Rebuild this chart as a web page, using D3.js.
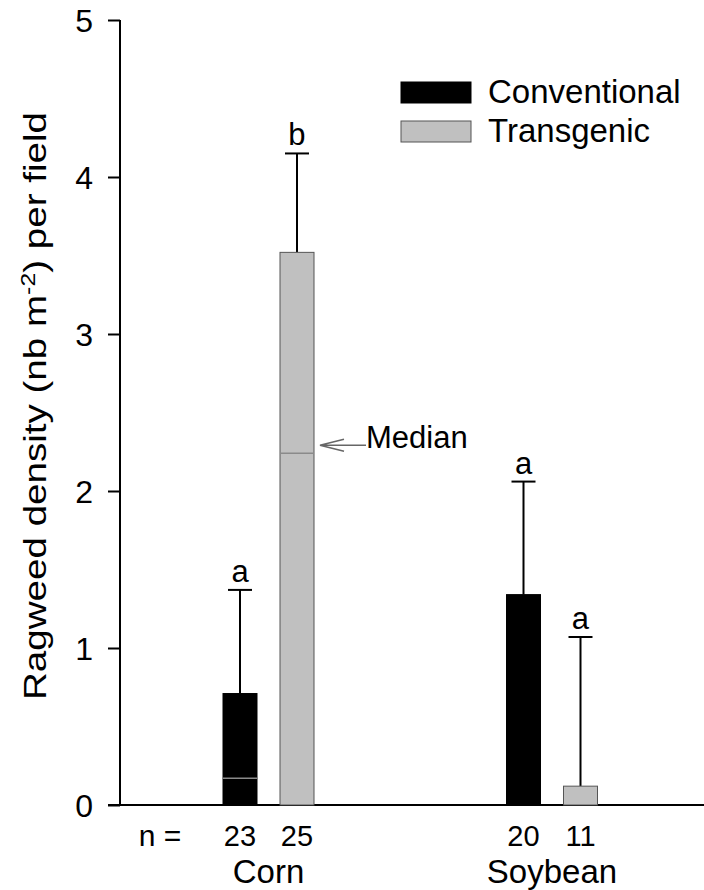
<!DOCTYPE html>
<html>
<head>
<meta charset="utf-8">
<script src="https://cdn.jsdelivr.net/npm/d3@7"></script>
<style>
	body { margin: 0; background: #fff; }
	text { font-family: "Liberation Sans", Arial, sans-serif; fill: #000; }
</style>
</head>
<body>
<svg id="chart" width="704" height="890"></svg>
<script>
var categories = ["Corn", "Soybean"];
var series = ["Conventional", "Transgenic"];
var meanValues = [[0.71, 3.52], [1.34, 0.12]];
var upperErrors = [[1.37, 4.15], [2.06, 1.07]];
var medianValues = [[0.17, 2.24], [null, null]];
var sampleSizes = [[23, 25], [20, 11]];
var letters = [["a", "b"], ["a", "a"]];
var yTicks = [0, 1, 2, 3, 4, 5];

var svg = d3.select("#chart");
var colors = d3.scaleOrdinal().domain(series).range(["#000000", "#c0c0c0"]);
var strokes = d3.scaleOrdinal().domain(series).range(["#000000", "#555555"]);

var y = d3.scaleLinear().domain([0, 5]).range([805, 20]);
var x0 = d3.scalePoint().domain(categories).range([268.5, 552]);
var x1 = d3.scaleBand().domain(series).range([-45.5, 45.5]).paddingInner(0.4035);

// flatten into one record per bar
var bars = [];
categories.forEach(function (c, i) {
	series.forEach(function (s, j) {
		bars.push({
			cat: c, ser: s,
			mean: meanValues[i][j],
			upper: upperErrors[i][j],
			median: medianValues[i][j],
			n: sampleSizes[i][j],
			letter: letters[i][j]
		});
	});
});
var barX = function (d) { return x0(d.cat) + x1(d.ser); };
var barMid = function (d) { return barX(d) + x1.bandwidth() / 2; };

// y axis
var yAxis = d3.axisLeft(y).tickValues(yTicks).tickSize(12).tickPadding(15).tickFormat(d3.format("d"));
var gy = svg.append("g").attr("transform", "translate(120,0)").call(yAxis);
gy.select(".domain").attr("d", "M0," + y(5) + "V" + y(0)).attr("stroke-width", 2);
gy.selectAll(".tick line").attr("stroke-width", 2);
gy.selectAll(".tick text").style("font-size", "32px").attr("dy", "0.36em");

// x axis baseline
svg.append("line")
	.attr("x1", 108).attr("x2", 704)
	.attr("y1", y(0)).attr("y2", y(0))
	.attr("stroke", "#000").attr("stroke-width", 2);

// y title
svg.append("text")
	.attr("transform", "translate(46," + 406 + ") rotate(-90)")
	.attr("text-anchor", "middle")
	.attr("textLength", 588)
	.attr("lengthAdjust", "spacingAndGlyphs")
	.style("font-size", "31px")
	.call(function (t) {
		t.append("tspan").text("Ragweed density (nb m");
		t.append("tspan").attr("baseline-shift", "super").style("font-size", "20px").text("-2");
		t.append("tspan").text(") per field");
	});

// error bars (drawn first so bars sit on top)
var err = svg.append("g").selectAll("g").data(bars).enter().append("g");
err.append("line")
	.attr("x1", barMid).attr("x2", barMid)
	.attr("y1", function (d) { return y(d.mean); })
	.attr("y2", function (d) { return y(d.upper); })
	.attr("stroke", "#000").attr("stroke-width", 2);
err.append("line")
	.attr("x1", function (d) { return barMid(d) - 12; })
	.attr("x2", function (d) { return barMid(d) + 12; })
	.attr("y1", function (d) { return y(d.upper); })
	.attr("y2", function (d) { return y(d.upper); })
	.attr("stroke", "#000").attr("stroke-width", 2);
err.append("text")
	.attr("x", barMid)
	.attr("y", function (d) { return y(d.upper) - 8; })
	.attr("text-anchor", "middle")
	.style("font-size", "31px")
	.text(function (d) { return d.letter; });

// bars
svg.append("g").selectAll("rect").data(bars).enter().append("rect")
	.attr("x", barX)
	.attr("width", x1.bandwidth())
	.attr("y", function (d) { return y(d.mean); })
	.attr("height", function (d) { return y(0) - y(d.mean); })
	.attr("fill", function (d) { return colors(d.ser); })
	.attr("stroke", function (d) { return strokes(d.ser); })
	.attr("stroke-width", 1);

// median lines
svg.append("g").selectAll("line").data(bars.filter(function (d) { return d.median !== null; }))
	.enter().append("line")
	.attr("x1", barX)
	.attr("x2", function (d) { return barX(d) + x1.bandwidth(); })
	.attr("y1", function (d) { return y(d.median); })
	.attr("y2", function (d) { return y(d.median); })
	.attr("stroke", "#8a8a8a").attr("stroke-width", 1.5);

// median annotation
var medBar = bars[1];
var tipX = barX(medBar) + x1.bandwidth() + 6;
var tipY = y(medBar.median) - 8;
svg.append("path")
	.attr("d", "M" + (tipX + 24) + "," + (tipY - 6) + "L" + tipX + "," + tipY + "L" + (tipX + 24) + "," + (tipY + 6)
		+ "M" + tipX + "," + tipY + "H" + (tipX + 46))
	.attr("fill", "none").attr("stroke", "#666").attr("stroke-width", 1.5);
svg.append("text")
	.attr("x", tipX + 46).attr("y", tipY + 3)
	.style("font-size", "31px")
	.text("Median");

// sample sizes and category labels
svg.append("text").attr("x", 160).attr("y", 846).attr("text-anchor", "middle")
	.style("font-size", "30px").text("n =");
svg.append("g").selectAll("text").data(bars).enter().append("text")
	.attr("x", barMid).attr("y", 846)
	.attr("text-anchor", "middle")
	.style("font-size", "29px")
	.text(function (d) { return d.n; });
svg.append("g").selectAll("text").data(categories).enter().append("text")
	.attr("x", function (d) { return x0(d); }).attr("y", 883)
	.attr("text-anchor", "middle")
	.style("font-size", "33px")
	.text(function (d) { return d; });

// legend
var legend = svg.append("g").selectAll("g").data(series).enter().append("g")
	.attr("transform", function (d, i) { return "translate(401," + (82 + i * 39) + ")"; });
legend.append("rect")
	.attr("width", 70).attr("height", 21)
	.attr("fill", function (d) { return colors(d); })
	.attr("stroke", function (d) { return strokes(d); });
legend.append("text")
	.attr("x", 87).attr("y", 21)
	.style("font-size", "33px")
	.text(function (d) { return d; });
</script>
</body>
</html>
